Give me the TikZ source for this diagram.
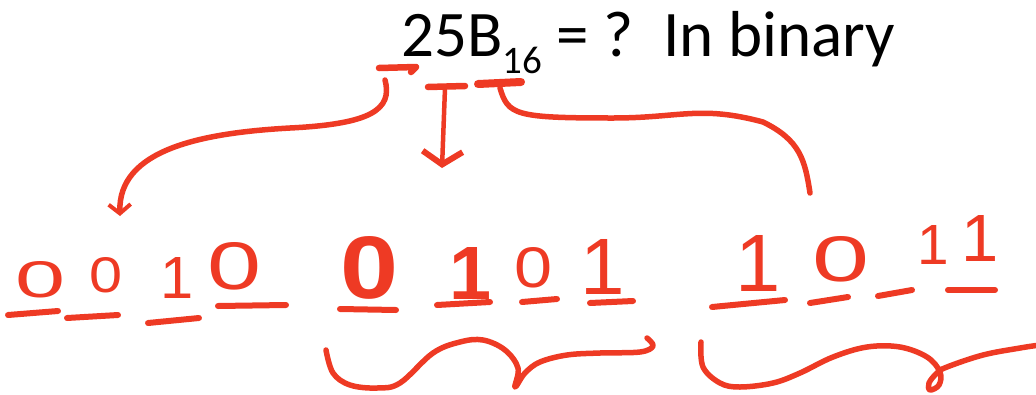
\documentclass[tikz,border=0pt]{standalone}
\usepackage{fontspec}
\usepackage{graphicx}
\setmainfont{Carlito}
\newfontfamily\handfont{Liberation Sans}
\usetikzlibrary{arrows.meta}
\definecolor{handred}{RGB}{238,58,36}
\newcommand{\dz}[3]{\resizebox{#1pt}{#2pt}{\handfont #3}}
\newcommand{\bdz}[3]{\resizebox{#1pt}{#2pt}{\handfont\bfseries #3}}
\newcommand{\dn}[2]{\resizebox{!}{#1pt}{\handfont #2}}
\newcommand{\bdn}[2]{\resizebox{!}{#1pt}{\handfont\bfseries #2}}
\begin{document}
\begin{tikzpicture}[x=1pt,y=-1pt,
  stroke/.style={draw=handred, line width=5.5pt, line cap=round, line join=round},
  ustroke/.style={draw=handred, line width=6pt, line cap=round},
  digit/.style={text=handred, inner sep=0pt, anchor=south},
  bar/.style={draw=handred, line width=6.5pt, line cap=round, line join=round},
  tip/.style={-{Straight Barb[length=9pt,width=22pt,line width=4pt]}}
]
\useasboundingbox (0,0) rectangle (1036,394);

% title
\node[anchor=base west, inner sep=0pt, font=\fontsize{65}{65}\selectfont] (title) at (401,56)
  {25B\raisebox{-17pt}{\fontsize{39}{39}\selectfont 16} = ?\ \ In binary};

% bars under the hex digits
\coordinate (b2a) at (379,68); \coordinate (b2b) at (416,67);
\coordinate (b5a) at (428,87); \coordinate (b5b) at (465,86);
\coordinate (bBa) at (478,84); \coordinate (bBb) at (521,82);
\draw[bar] (b2a) -- (b2b) -- (411,72);
\draw[bar] (b5a) -- (b5b);
\draw[bar, line width=8pt] (bBa) -- (bBb);

% digits
\node[digit] (d1)  at (41,298)  {\dz{50}{36}{0}};
\node[digit] (d2)  at (106,293) {\dz{33}{35}{0}};
\node[digit] (d3)  at (177,299) {\dn{41}{1}};
\node[digit] (d4)  at (235,290) {\dz{54}{47}{0}};
\node[digit] (d5)  at (370,300) {\bdz{58}{62}{0}};
\node[digit] (d6)  at (471,300) {\bdn{52}{1}};
\node[digit] (d7)  at (534,288) {\dz{38}{40}{0}};
\node[digit] (d8)  at (603,295) {\dn{55}{1}};
\node[digit] (d9)  at (758,292) {\dn{56}{1}};
\node[digit] (d10) at (841,282) {\dz{57}{45}{0}};
\node[digit] (d11) at (933,265) {\dn{39}{1}};
\node[digit] (d12) at (980,262) {\dn{46}{1}};

% underlines
\draw[ustroke] (8,315) -- (58,311);
\draw[ustroke] (67,318) -- (118,315);
\draw[ustroke] (148,323) -- (199,318);
\draw[ustroke] (218,306) -- (286,305);
\draw[ustroke] (340,309) -- (396,310);
\draw[ustroke] (437,305) -- (490,302);
\draw[ustroke] (522,302) -- (557,299);
\draw[ustroke] (590,303) -- (633,301);
\draw[ustroke] (712,307) -- (785,300);
\draw[ustroke] (810,303) -- (848,297);
\draw[ustroke] (878,296) -- (912,290);
\draw[ustroke] (948,290) -- (995,290);

% connectors
\coordinate (lstart) at (385,80);
\coordinate (lend) at (120,216);
\draw[stroke, tip] (lstart) .. controls (393,110) and (370,124) .. (290,128)
  .. controls (200,133) and (118,150) .. (lend);

\coordinate (mstart) at (445,88);
\coordinate (mend) at (442,168);
\draw[stroke, line width=4.5pt, -{Straight Barb[length=13pt,width=40pt,line width=6pt]}] (mstart) -- (mend);

\coordinate (rstart) at (500,88);
\coordinate (rend) at (810,193);
\draw[stroke] (rstart) .. controls (508,115) and (515,118) .. (613,118)
  .. controls (680,118) and (700,105) .. (763,122)
  .. controls (800,140) and (805,160) .. (rend);

% braces
\draw[stroke] plot[smooth, tension=0.6] coordinates {
  (326,350) (333,373) (350,385) (377,388) (400,383) (433,353) (460,342) (483,340)
  (505,350) (518,368) (515,387) (525,373) (540,362) (567,355) (600,353) (640,352)
  (653,346) (647,338)};
\draw[stroke] plot[smooth, tension=0.6] coordinates {
  (701,342) (703,367) (720,383) (740,387) (773,383) (800,373) (833,357) (867,347)
  (900,347) (927,357) (940,372) (939,385) (930,390) (929,383) (937,373) (947,367)
  (983,355) (1020,348) (1040,345)};
\end{tikzpicture}
\end{document}
